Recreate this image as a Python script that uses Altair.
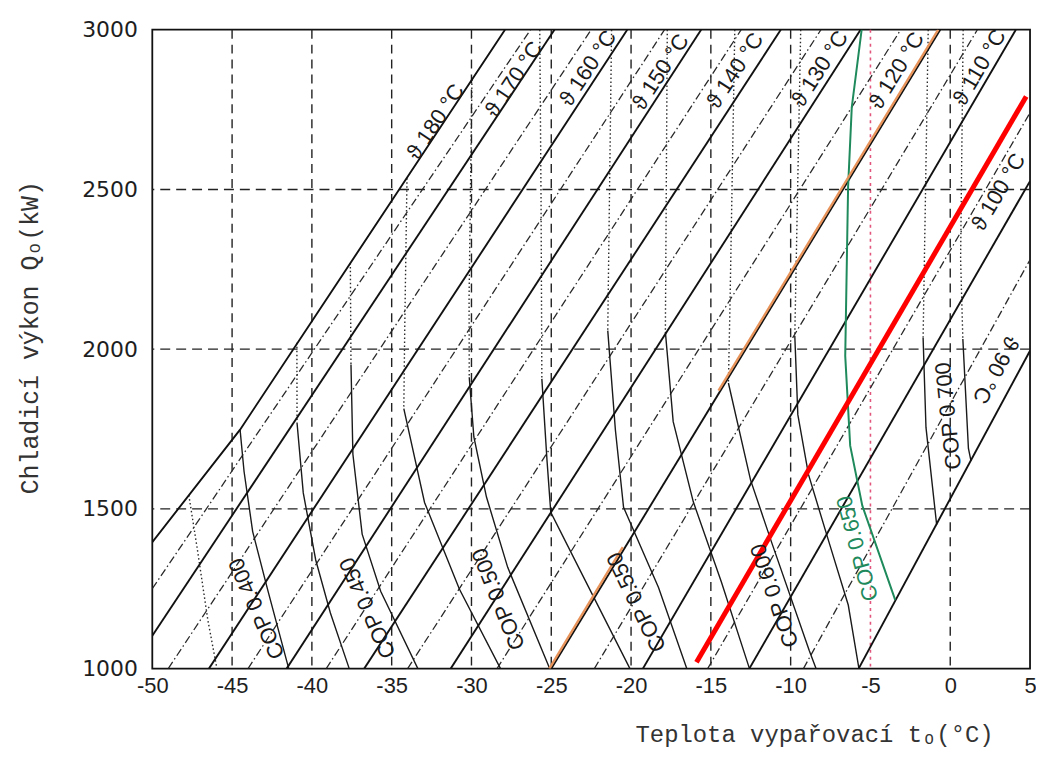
import altair as alt
import pandas as pd

# ---------------- axes / grid ----------------
x_ticks = [-50, -45, -40, -35, -30, -25, -20, -15, -10, -5, 0, 5]
y_ticks = [1000, 1500, 2000, 2500, 3000]
v_grid = [-45, -40, -35, -30, -25, -20, -15, -10, 0]
v_grid_pink = [-5]
h_grid = [1500, 2000, 2500]

# ---------------- solid theta lines (labelled) ----------------
theta_ids = ["180", "170", "160", "150", "140", "130", "120", "110", "100", "90"]
theta_t = [
    [-50.0, -44.5, -34.49, -27.9],
    [-50.0, -24.8],
    [-46.45, -20.24],
    [-41.58, -15.61],
    [-36.72, -10.62],
    [-31.30, -5.62],
    [-25.0, -0.63],
    [-19.26, 4.11],
    [-12.59, 5.0],
    [-5.74, 5.0],
]
theta_q = [
    [1396, 1748, 2503, 3000],
    [1103, 3000],
    [1000, 3000],
    [1000, 3000],
    [1000, 3000],
    [1000, 3000],
    [1000, 3000],
    [1000, 3000],
    [1000, 2526],
    [1000, 1995],
]

# ---------------- dash-dot intermediate lines ----------------
mid_ids = ["175", "165", "155", "145", "135", "125", "115", "105", "95"]
mid_t = [
    [-50.0, -26.3], [-49.0, -22.5], [-44.0, -17.9], [-39.1, -13.1],
    [-34.0, -8.1], [-28.4, -3.1], [-22.3, 1.7], [-15.2, 5.0], [-9.2, 5.0],
]
mid_q = [
    [1250, 3000], [1000, 3000], [1000, 3000], [1000, 3000],
    [1000, 3000], [1000, 3000], [1000, 3000], [1000, 2740], [1000, 2280],
]

# ---------------- COP curves ----------------
cop_ids = ["c0", "c1", "c2", "c3", "c4", "c5", "c6", "c7", "c8", "c9", "c10", "c12", "c13"]
cop_t = [
    [-47.71, -47.17, -46.52, -45.95],
    [-44.50, -44.25, -43.71, -42.74, -41.45],
    [-40.94, -40.93, -40.54, -39.76, -38.84, -37.66],
    [-37.59, -37.55, -37.43, -36.85, -35.69, -33.36],
    [-34.04, -34.18, -34.24, -32.94, -30.76, -28.18],
    [-29.97, -30.15, -30.14, -29.85, -29.06, -27.73, -25.10],
    [-25.72, -25.64, -25.59, -25.27, -25.03, -23.24, -20.07],
    [-21.22, -21.46, -20.98, -20.47, -18.28, -16.51],
    [-17.73, -17.85, -17.36, -16.10, -14.34, -12.58],
    [-13.50, -13.80, -13.90, -12.51, -11.17, -8.83, -8.41],
    [-9.37, -9.74, -9.55, -8.88, -7.55, -6.39, -5.72],
    [-1.38, -1.70, -1.52, -0.85],
    [0.81, 0.65, 0.79, 1.14, 1.30],
]
cop_q = [
    [1543, 1371, 1152, 1000],
    [1748, 1617, 1429, 1241, 1000],
    [2020, 1769, 1550, 1340, 1174, 1000],
    [2270, 1952, 1671, 1421, 1242, 1000],
    [2535, 2070, 1814, 1520, 1249, 1000],
    [2844, 2162, 1912, 1725, 1537, 1317, 1000],
    [3000, 2467, 1907, 1654, 1489, 1312, 1000],
    [3000, 2058, 1746, 1505, 1254, 1000],
    [3000, 2054, 1773, 1522, 1271, 1000],
    [3000, 2141, 1894, 1590, 1392, 1056, 1000],
    [3000, 2042, 1795, 1607, 1388, 1199, 1000],
    [3000, 2035, 1755, 1450],
    [3000, 2282, 2032, 1689, 1650],
]
# index of the point where the dotted upper part turns solid
cop_split = [3, 0, 1, 1, 2, 2, 2, 1, 1, 2, 1, 1, 2]

# green COP 0.650 curve
green_t = [-5.55, -6.17, -6.40, -6.58, -6.27, -5.51, -3.45]
green_q = [3000, 2757, 2508, 1979, 1698, 1510, 1215]

# orange overlay on the 120 °C line (two visible pieces)
orange_ids = ["o1", "o2"]
orange_t = [[-25.12, -20.52], [-14.52, -0.75]]
orange_q = [[1000, 1380], [1870, 3000]]

# red annotation line
red_t = [-15.9, 4.76]
red_q = [1020, 2791]

# ---------------- labels ----------------
theta_label_text = ["ϑ 180 °C", "ϑ 170 °C", "ϑ 160 °C", "ϑ 150 °C", "ϑ 140 °C",
                    "ϑ 130 °C", "ϑ 120 °C", "ϑ 110 °C", "ϑ 100 °C", "ϑ 90 °C"]
theta_label_t = [-32.25, -27.35, -22.70, -18.15, -13.48, -8.17, -3.36, 1.83, 3.02, 2.85]
theta_label_q = [2712, 2845, 2880, 2868, 2872, 2878, 2872, 2882, 2492, 1935]
theta_label_ang = [303.5, 303.6, 303.2, 303.0, 303.1, 302.7, 301.4, 300.3, 300.3, 118.4]

cop_label_text = ["COP 0.400", "COP 0.450", "COP 0.500", "COP 0.550",
                  "COP 0.600", "COP 0.650", "COP 0.700"]
cop_label_t = [-43.45, -36.50, -28.30, -19.65, -11.00, -5.80, -0.12]
cop_label_q = [1188, 1190, 1218, 1208, 1229, 1376, 1791]
cop_label_ang = [246, 246, 248, 244, 251, 255, 264]
cop_label_col = ["#1a1a1a"] * 5 + ["#1f8a5c", "#1a1a1a"]


def poly_frame(ids, ts, qs):
    rows = []
    for i, tl, ql in zip(ids, ts, qs):
        for k, (t, q) in enumerate(zip(tl, ql)):
            rows.append({"id": i, "k": k, "t": t, "Q": q})
    return pd.DataFrame(rows)


theta_df = poly_frame(theta_ids, theta_t, theta_q)
mid_df = poly_frame(mid_ids, mid_t, mid_q)

dot_ids, dot_t, dot_q, sol_ids, sol_t, sol_q = [], [], [], [], [], []
for i, tl, ql, s in zip(cop_ids, cop_t, cop_q, cop_split):
    if s > 0:
        dot_ids.append(i); dot_t.append(tl[: s + 1]); dot_q.append(ql[: s + 1])
    if s < len(tl) - 1:
        sol_ids.append(i); sol_t.append(tl[s:]); sol_q.append(ql[s:])
cop_dot_df = poly_frame(dot_ids, dot_t, dot_q)
cop_sol_df = poly_frame(sol_ids, sol_t, sol_q)
green_df = poly_frame(["g"], [green_t], [green_q])
orange_df = poly_frame(orange_ids, orange_t, orange_q)
red_df = poly_frame(["r"], [red_t], [red_q])

label_df = pd.DataFrame({
    "text": theta_label_text + cop_label_text,
    "t": theta_label_t + cop_label_t,
    "Q": theta_label_q + cop_label_q,
    "ang": theta_label_ang + cop_label_ang,
    "col": ["#1a1a1a"] * len(theta_label_text) + cop_label_col,
})

# ---------------- encodings ----------------
xs = alt.Scale(domain=[-50, 5], nice=False, zero=False)
ys = alt.Scale(domain=[1000, 3000], nice=False, zero=False)
x_axis = alt.Axis(values=x_ticks, grid=False, domain=False, ticks=False,
                  labelExpr="toString(datum.value)",
                  labelPadding=7, labelFontSize=22, labelFont="Liberation Sans",
                  labelColor="#1e1e1e", labelFlush=False, labelOverlap=False,
                  title="Teplota vypařovací tₒ(°C)", titleFont="Liberation Mono",
                  titleFontSize=24, titleFontWeight="normal", titleColor="#333",
                  titleX=665, titleY=66, titleAlign="center", titleBaseline="middle")
y_axis = alt.Axis(values=y_ticks, format="d", grid=False, domain=False, ticks=False,
                  labelPadding=15, labelFontSize=22, labelFont="DejaVu Sans",
                  labelColor="#1e1e1e", labelFlush=False, labelOverlap=False,
                  title="Chladicí výkon Qₒ(kW)", titleFont="Liberation Mono",
                  titleFontSize=25, titleFontWeight="normal", titleColor="#333",
                  titleAngle=270, titleX=-123, titleY=309, titleAlign="center",
                  titleBaseline="middle")

X = alt.X("t:Q", scale=xs, axis=x_axis)
Y = alt.Y("Q:Q", scale=ys, axis=y_axis)

vgrid = alt.Chart(pd.DataFrame({"t": v_grid})).mark_rule(
    color="#222", strokeWidth=1.4, strokeDash=[9, 6]).encode(x=X)
vpink = alt.Chart(pd.DataFrame({"t": v_grid_pink})).mark_rule(
    color="#e2557c", strokeWidth=1.6, strokeDash=[3, 4]).encode(x=X)
hgrid = alt.Chart(pd.DataFrame({"Q": h_grid})).mark_rule(
    color="#222", strokeWidth=1.4, strokeDash=[10, 6]).encode(y=Y)


def lines(df, **kw):
    return alt.Chart(df).mark_line(clip=True, **kw).encode(
        x=X, y=Y, detail="id:N", order="k:Q")


mid_l = lines(mid_df, color="#2a2a2a", strokeWidth=1.3, strokeDash=[8, 3, 1.5, 3])
dot_l = lines(cop_dot_df, color="#2a2a2a", strokeWidth=1.4, strokeDash=[1.5, 2.5])
sol_l = lines(cop_sol_df, color="#1a1a1a", strokeWidth=1.4)
theta_l = lines(theta_df, color="#111", strokeWidth=1.9)
green_l = lines(green_df, color="#1f8a5c", strokeWidth=2.0)
orange_l = lines(orange_df, color="#e8935a", strokeWidth=2.4)
red_l = lines(red_df, color="#ff0000", strokeWidth=5, strokeCap="butt")

labels = alt.Chart(label_df).mark_text(
    font="Liberation Sans", fontSize=22, align="center", baseline="middle").encode(
    x=X, y=Y, text="text:N",
    angle=alt.Angle("ang:Q", scale=None),
    color=alt.Color("col:N", scale=None))

chart = alt.layer(
    vgrid, vpink, hgrid, mid_l, dot_l, sol_l, theta_l, green_l, orange_l, red_l, labels
).properties(
    width=882, height=642,
    padding={"left": 145, "top": 20, "right": 6, "bottom": 85},
    autosize=alt.AutoSizeParams(type="none"),
).configure_view(stroke="#111", strokeWidth=1.8)

chart.save("out.html", embed_options={"renderer": "svg", "actions": False})
